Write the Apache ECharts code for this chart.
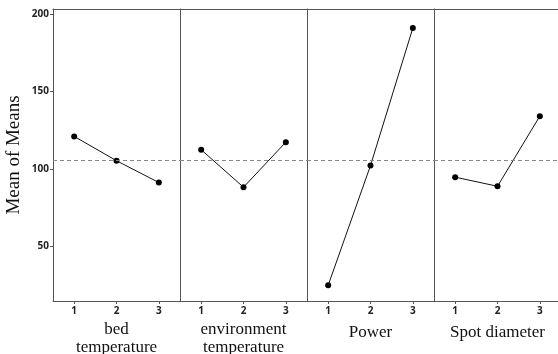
<!DOCTYPE html>
<html><head><meta charset="utf-8">
<script src="https://cdn.jsdelivr.net/npm/echarts@6/dist/echarts.min.js"></script>
<style>html,body{margin:0;padding:0;background:#fff}#c{width:558px;height:354px}</style>
</head><body><div id="c"></div>
<script>
const factors = ['bed\ntemperature', 'environment\ntemperature', 'Power', 'Spot diameter'];
const levels = [1, 2, 3];
const bedTemp = [120.9, 105.2, 91.1];
const envTemp = [112.3, 88.1, 117.2];
const power = [24.7, 102.1, 190.9];
const spotDiameter = [94.6, 88.7, 134.0];
const grandMean = 105.8;
const yTicks = [50, 100, 150, 200];

const seriesValues = [bedTemp, envTemp, power, spotDiameter];
const chart = echarts.init(document.getElementById('c'));
const grids = [], xAxes = [], yAxes = [], series = [];
const axisColor = '#555';
const serif = '"Liberation Serif", "DejaVu Serif", serif';
const sans = '"Open Sans", "DejaVu Sans", sans-serif';
for (let i = 0; i < 4; i++) {
  grids.push({left: 53 + 127 * i, top: 9, width: 127, height: 292, show: false,
              containLabel: false, outerBoundsMode: 'none'});
  const twoLine = factors[i].indexOf('\n') >= 0;
  xAxes.push({
    type: 'value', gridIndex: i, min: 0.5, max: 3.5,
    name: factors[i], nameLocation: 'middle', nameGap: twoLine ? 37 : 32,
    nameTextStyle: {fontFamily: serif, fontSize: 17, color: '#111', lineHeight: 18, verticalAlign: 'middle'},
    axisLine: {show: true, onZero: false, lineStyle: {color: axisColor, width: 1}},
    axisTick: {show: true, length: 3, customValues: levels, lineStyle: {color: axisColor}},
    axisLabel: {customValues: levels, fontFamily: sans, fontWeight: 'bold', fontSize: 10, color: '#222', margin: 5},
    splitLine: {show: false}
  });
  yAxes.push({
    type: 'value', gridIndex: i, min: 14.6, max: 203.2,
    name: i === 0 ? 'Mean of Means' : '', nameLocation: 'middle', nameGap: 29, nameRotate: 90,
    nameTextStyle: {fontFamily: serif, fontSize: 19, color: '#111'},
    axisLine: {show: true, lineStyle: {color: axisColor, width: 1}},
    axisTick: {show: i === 0, length: 3, customValues: yTicks, lineStyle: {color: axisColor}},
    axisLabel: {show: i === 0, customValues: yTicks, fontFamily: sans, fontWeight: 'bold', fontSize: 10, color: '#222', margin: 4},
    splitLine: {show: false}
  });
  // top border
  xAxes.push({
    type: 'value', gridIndex: i, position: 'top', min: 0.5, max: 3.5,
    axisLine: {show: true, onZero: false, lineStyle: {color: axisColor, width: 1}},
    axisTick: {show: false}, axisLabel: {show: false}, splitLine: {show: false}
  });
  series.push({
    type: 'line', xAxisIndex: 2 * i, yAxisIndex: i,
    data: levels.map((l, k) => [l, seriesValues[i][k]]),
    symbol: 'circle', symbolSize: 6,
    lineStyle: {color: '#111', width: 1}, itemStyle: {color: '#000'},
    silent: true, animation: false,
    markLine: {
      silent: true, symbol: 'none', label: {show: false},
      lineStyle: {color: '#888', type: [4, 3], width: 1},
      data: [{yAxis: grandMean}]
    }
  });
}
chart.setOption({animation: false, grid: grids, xAxis: xAxes, yAxis: yAxes, series: series});
</script></body></html>
